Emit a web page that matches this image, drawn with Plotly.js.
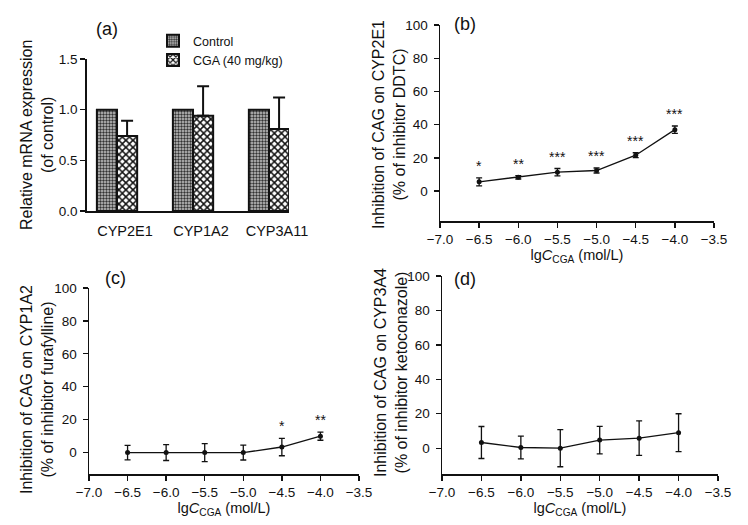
<!DOCTYPE html>
<html>
<head>
<meta charset="utf-8">
<script src="https://cdn.plot.ly/plotly-3.0.1.min.js"></script>
<style>
  html, body { margin: 0; padding: 0; background: #fff; }
  #chart { width: 748px; height: 525px; }
</style>
</head>
<body>
<div id="chart"></div>
<script>
// (a) mRNA expression
const genes = ['CYP2E1', 'CYP1A2', 'CYP3A11'];
const ctrlExpr = [1.0, 1.0, 1.0];
const cgaExpr = [0.74, 0.94, 0.81];
const cgaErr = [0.15, 0.29, 0.31];

// (b)-(d) inhibition vs lgC
const lgC = [-6.5, -6.0, -5.5, -5.0, -4.5, -4.0];
const inhB = [5.6, 8.3, 11.4, 12.4, 21.6, 37.0];
const errB = [2.4, 1.0, 2.2, 1.5, 1.5, 2.2];
const starsB = ['*', '**', '***', '***', '***', '***'];
const inhC = [0, 0, 0, 0, 3.4, 10.0];
const errC = [4.4, 4.8, 5.5, 4.5, 5.3, 2.5];
const starsC = ['', '', '', '', '*', '**'];
const inhD = [3.3, 0.4, 0, 4.7, 5.8, 9.0];
const errD = [9.3, 6.6, 10.8, 8.0, 10.0, 11.0];

const FONT = 'Liberation Sans, Arial, sans-serif';
const W = 748, H = 525;
const dx = (a, b) => [a / W, b / W];
const dy = (top, bot) => [1 - bot / H, 1 - top / H];

function lineTrace(y, err, xa, ya) {
  return {
    x: lgC, y: y, xaxis: xa, yaxis: ya, type: 'scatter', mode: 'lines+markers',
    line: { color: '#111', width: 1.3 },
    marker: { color: '#111', size: 5 },
    error_y: { type: 'data', array: err, visible: true, color: '#111', thickness: 1.3, width: 3 },
    showlegend: false, hoverinfo: 'skip'
  };
}

function starNotes(y, err, stars, xr, yr) {
  return stars.map((s, i) => s ? {
    x: lgC[i], y: y[i] + err[i], xref: xr, yref: yr, text: s, showarrow: false,
    xanchor: 'center', yanchor: 'bottom', yshift: 2,
    font: { family: FONT, size: 14, color: '#111' }
  } : null).filter(Boolean);
}

// paper-positioned text (panel letters, rotated y titles)
function note(text, px, py, size, angle) {
  return {
    text: text, x: px / W, y: 1 - py / H, xref: 'paper', yref: 'paper',
    xanchor: 'center', yanchor: 'middle', showarrow: false, textangle: angle || 0,
    font: { family: FONT, size: size, color: '#111' }
  };
}

const traces = [
  {
    x: genes, y: ctrlExpr, name: 'Control', type: 'bar', xaxis: 'x', yaxis: 'y',
    marker: { color: '#999', line: { color: '#111', width: 2 },
      pattern: { shape: '.', size: 3, solidity: 0.5, fgcolor: '#333', bgcolor: '#c8c8c8' } },
    hoverinfo: 'skip'
  },
  {
    x: genes, y: cgaExpr, name: 'CGA (40 mg/kg)', type: 'bar', xaxis: 'x', yaxis: 'y',
    marker: { color: '#fff', line: { color: '#111', width: 2 },
      pattern: { shape: 'x', size: 5, solidity: 0.5, fgcolor: '#111', bgcolor: '#fff' } },
    error_y: { type: 'data', symmetric: false, array: cgaErr, arrayminus: [0, 0, 0],
      visible: true, color: '#111', thickness: 2, width: 6 },
    hoverinfo: 'skip'
  },
  lineTrace(inhB, errB, 'x2', 'y2'),
  lineTrace(inhC, errC, 'x3', 'y3'),
  lineTrace(inhD, errD, 'x4', 'y4')
];

const tickFont = { family: FONT, size: 13.5, color: '#111' };
const xTitle = 'lg<i>C</i><sub>CGA</sub> (mol/L)';

function numX(domain, anchor) {
  return {
    domain: domain, anchor: anchor, range: [-7.0, -3.5], dtick: 0.5, tick0: -7,
    tickformat: '.1f', showline: true, linecolor: '#111', linewidth: 1.5,
    ticks: 'outside', ticklen: 5, tickwidth: 1.3, tickcolor: '#111',
    showgrid: false, zeroline: false, tickfont: tickFont,
    title: { text: xTitle, font: { family: FONT, size: 14.5, color: '#111' }, standoff: 2 }
  };
}
function numY(domain, anchor, lo) {
  return {
    domain: domain, anchor: anchor, range: [lo, 100], dtick: 20, tick0: 0,
    showline: true, linecolor: '#111', linewidth: 1.5,
    ticks: 'outside', ticklen: 5, tickwidth: 1.3, tickcolor: '#111', ticklabelstandoff: 3,
    showgrid: false, zeroline: false, tickfont: tickFont
  };
}

const annotations = [
  note('(a)', 107, 29, 18),
  note('(b)', 465, 24, 18),
  note('(c)', 115, 278, 18),
  note('(d)', 465, 279, 18),
  note('Relative mRNA expression<br>(of control)', 37, 135, 16, -90),
  note('Inhibition of CAG on CYP2E1<br>(% of inhibitor DDTC)', 389, 125, 16, -90),
  note('Inhibition of CAG on CYP1A2<br>(% of inhibitor furafylline)', 37, 390, 16, -90),
  note('Inhibition of CAG on CYP3A4<br>(% of inhibitor ketoconazole)', 391, 373, 16, -90),
  ...starNotes(inhB, errB, starsB, 'x2', 'y2'),
  ...starNotes(inhC, errC, starsC, 'x3', 'y3')
];

const layout = {
  width: W, height: H,
  margin: { l: 0, r: 0, t: 0, b: 0 },
  paper_bgcolor: '#fff', plot_bgcolor: 'rgba(0,0,0,0)',
  font: { family: FONT, color: '#111' },
  barmode: 'group', bargap: 0.47, bargroupgap: 0,
  showlegend: true,
  legend: { x: 153 / W, y: 1 - 26 / H, xanchor: 'left', yanchor: 'top',
    bgcolor: 'rgba(0,0,0,0)', font: { family: FONT, size: 12.5, color: '#111' },
    tracegroupgap: 0, itemwidth: 30 },
  xaxis: {
    domain: dx(87, 289), anchor: 'y', type: 'category', range: [-0.395, 2.263],
    showline: true, linecolor: '#111', linewidth: 1.8, ticks: '', showgrid: false,
    tickfont: { family: FONT, size: 14.5, color: '#111' }, ticklabelshift: 8, ticklabelstandoff: 6
  },
  yaxis: {
    domain: dy(59, 211), anchor: 'x', range: [0, 1.5], dtick: 0.5, tickformat: '.1f',
    showline: true, linecolor: '#111', linewidth: 1.8, ticks: 'outside', ticklen: 5,
    tickwidth: 1.5, tickcolor: '#111', showgrid: false, zeroline: false, tickfont: tickFont
  },
  xaxis2: numX(dx(440, 714), 'y2'),
  yaxis2: numY(dy(25, 221), 'x2', -18),
  xaxis3: numX(dx(89, 359), 'y3'),
  yaxis3: numY(dy(288, 474), 'x3', -13),
  xaxis4: numX(dx(442, 718), 'y4'),
  yaxis4: numY(dy(276, 474), 'x4', -15),
  annotations: annotations
};

Plotly.newPlot('chart', traces, layout, { displayModeBar: false, staticPlot: true });
</script>
</body>
</html>
